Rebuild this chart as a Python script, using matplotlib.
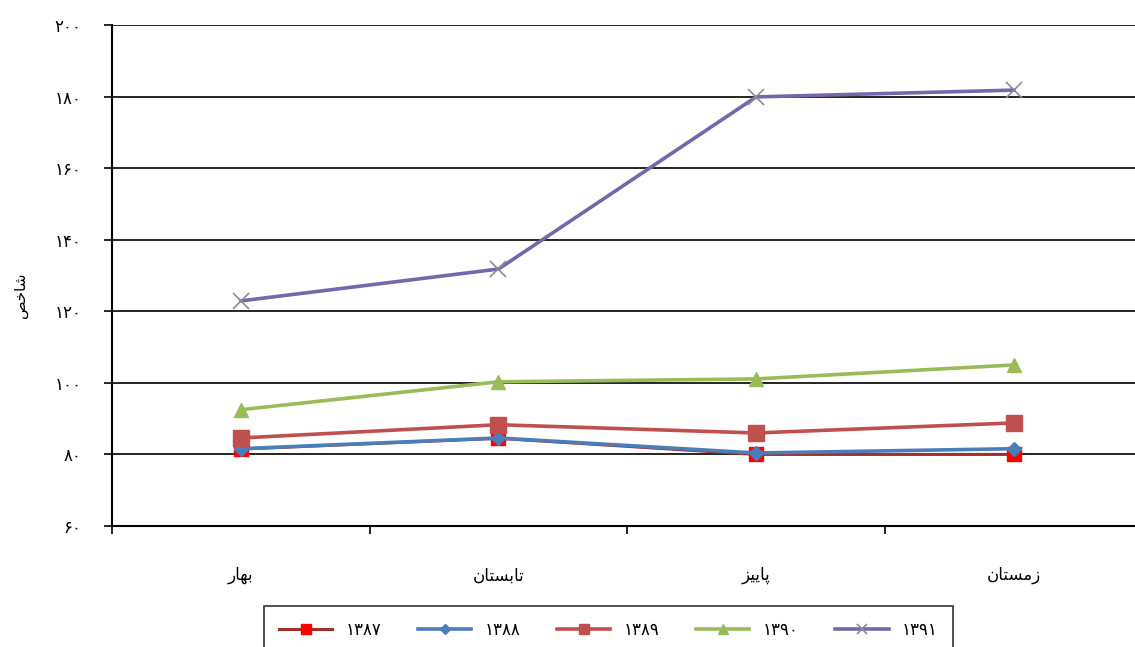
import numpy as np
import matplotlib.pyplot as plt

# seasons (spring, summer, autumn, winter) and yearly index values
seasons = ['بهار', 'تابستان', 'پاییز', 'زمستان']
years = ['۱۳۸۷', '۱۳۸۸', '۱۳۸۹', '۱۳۹۰', '۱۳۹۱']
v1387 = [81.5, 84.5, 80.0, 80.0]
v1388 = [81.6, 84.6, 80.4, 81.6]
v1389 = [84.6, 88.3, 86.0, 88.8]
v1390 = [92.5, 100.3, 101.1, 105.0]
v1391 = [122.9, 131.8, 179.9, 181.8]
y_ticks = [60, 80, 100, 120, 140, 160, 180, 200]
y_label = 'شاخص'

# minimal arabic/persian shaping (matplotlib has no text shaping)
FORMS = {
    'ب': '\uFE8F\uFE90\uFE91\uFE92', 'ه': '\uFEE9\uFEEA\uFEEB\uFEEC',
    'ت': '\uFE95\uFE96\uFE97\uFE98', 'س': '\uFEB1\uFEB2\uFEB3\uFEB4',
    'ن': '\uFEE5\uFEE6\uFEE7\uFEE8', 'پ': '\uFB56\uFB57\uFB58\uFB59',
    'ی': '\uFBFC\uFBFD\uFBFE\uFBFF', 'م': '\uFEE1\uFEE2\uFEE3\uFEE4',
    'ش': '\uFEB5\uFEB6\uFEB7\uFEB8', 'خ': '\uFEA5\uFEA6\uFEA7\uFEA8',
    'ص': '\uFEB9\uFEBA\uFEBB\uFEBC',
    'ا': '\uFE8D\uFE8E', 'ر': '\uFEAD\uFEAE', 'ز': '\uFEAF\uFEB0',
}

def shape(word):
    out = []
    for i, ch in enumerate(word):
        f = FORMS.get(ch)
        if f is None:
            out.append(ch)
            continue
        prev = word[i - 1] if i > 0 else None
        nxt = word[i + 1] if i + 1 < len(word) else None
        join_prev = prev in FORMS and len(FORMS[prev]) == 4
        join_next = nxt in FORMS and len(f) == 4
        if join_prev and join_next:
            out.append(f[3])
        elif join_prev:
            out.append(f[1])
        elif join_next:
            out.append(f[2])
        else:
            out.append(f[0])
    return ''.join(reversed(out))

def fa_digits(n):
    return ''.join('۰۱۲۳۴۵۶۷۸۹'[int(c)] for c in str(n))

plt.rcParams['font.family'] = ['DejaVu Sans']

fig = plt.figure(figsize=(11.35, 6.47), dpi=100)
ax = fig.add_axes([0.0987, 0.187, 0.908, 0.7744])

x = np.arange(len(seasons))
ax.plot(x, v1387, color='#A0302C', lw=2.2, marker='s', ms=10, mfc='#FF0000', mec='#FF0000', label=years[0])
ax.plot(x, v1388, color='#4A7EBB', lw=2.6, marker='D', ms=7, mfc='#4A7EBB', mec='#4A7EBB', label=years[1])
ax.plot(x, v1389, color='#C0504D', lw=2.6, marker='s', ms=11, mfc='#C0504D', mec='#C0504D', label=years[2])
ax.plot(x, v1390, color='#9BBB59', lw=2.6, marker='^', ms=10, mfc='#9BBB59', mec='#9BBB59', label=years[3])
ax.plot(x, v1391, color='#6F6AAE', lw=2.6, marker='x', ms=11, mew=1.2, mec='#8A8A9A', label=years[4])

ax.set_xlim(-0.5, 3.5)
ax.set_ylim(60, 200)
ax.set_yticks(y_ticks)
ax.set_yticklabels([fa_digits(t) for t in y_ticks], fontsize=12)
ax.yaxis.grid(True, color='black', lw=1.2)
ax.set_axisbelow(True)

ax.set_xticks([-0.5, 0.5, 1.5, 2.5, 3.5])
ax.set_xticklabels([])
ax.set_xticks(x, minor=True)
ax.set_xticklabels([shape(s) for s in seasons], minor=True, fontsize=12)
ax.tick_params(axis='x', which='minor', length=0, pad=29)
ax.tick_params(axis='x', which='major', length=6, width=1.2, direction='out')
ax.tick_params(axis='y', length=6, width=1.2, direction='out', pad=16)

for s in ['top', 'right']:
    ax.spines[s].set_visible(False)
for s in ['left', 'bottom']:
    ax.spines[s].set_linewidth(1.5)

ax.set_ylabel(shape(y_label), fontsize=11)
ax.yaxis.set_label_coords(-0.082, 0.46)

leg = fig.legend(loc='upper center', bbox_to_anchor=(0.536, 0.077), ncol=5,
                 fontsize=12, frameon=True, fancybox=False, edgecolor='black',
                 handlelength=3.2, columnspacing=2.2, borderpad=0.9, markerscale=0.7)
leg.get_frame().set_linewidth(1.2)

fig.savefig('out.png', dpi=100)
